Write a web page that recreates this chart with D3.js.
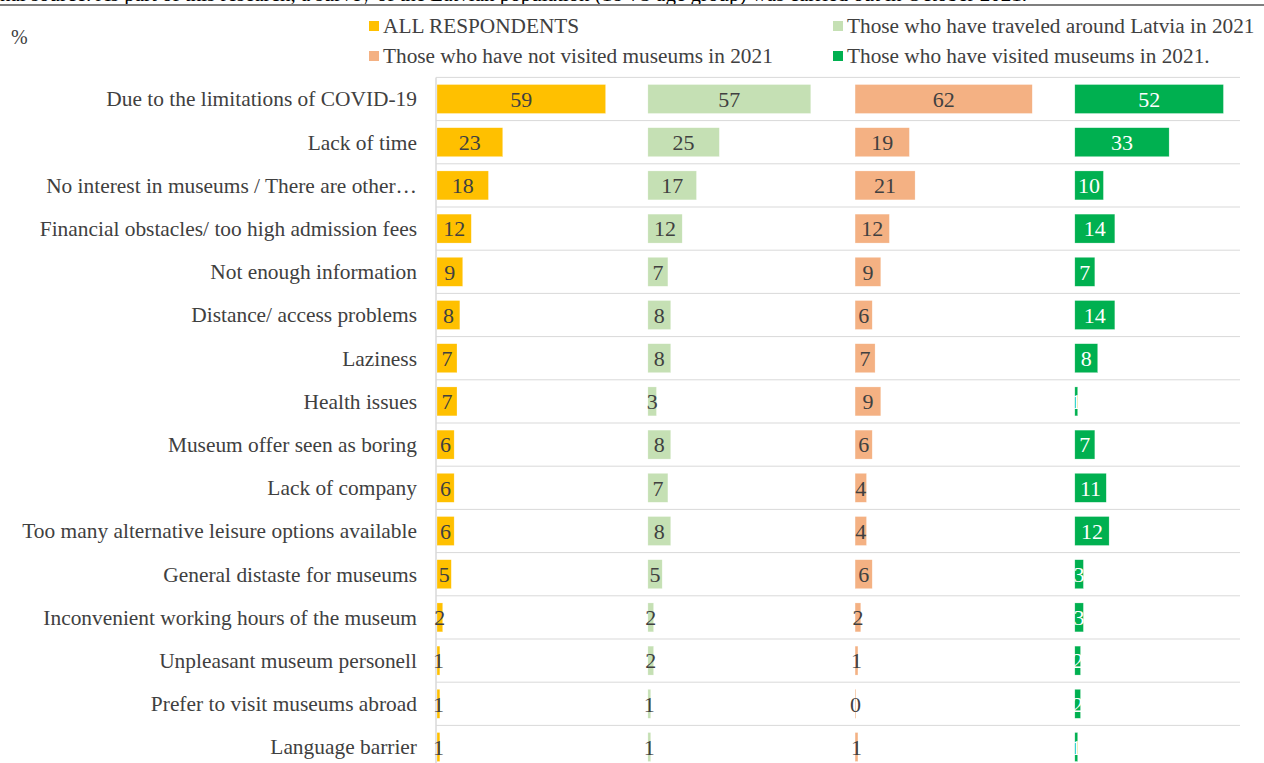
<!DOCTYPE html>
<html>
<head>
<meta charset="utf-8">
<script src="https://cdn.jsdelivr.net/npm/d3@7"></script>
<style>
  body { margin: 0; background: #fff; }
  text { font-family: "Liberation Serif", "Times New Roman", serif; }
</style>
</head>
<body>
<div id="chart"></div>
<script>
'use strict';

var reasons = [
  'Due to the limitations of COVID-19',
  'Lack of time',
  'No interest in museums / There are other\u2026',
  'Financial obstacles/ too high admission fees',
  'Not enough information',
  'Distance/ access problems',
  'Laziness',
  'Health issues',
  'Museum offer seen as boring',
  'Lack of company',
  'Too many alternative leisure options available',
  'General distaste for museums',
  'Inconvenient working hours of the museum',
  'Unpleasant museum personell',
  'Prefer to visit museums abroad',
  'Language barrier'
];

var seriesNames = [
  'ALL RESPONDENTS',
  'Those who have traveled around Latvia in 2021',
  'Those who have not visited museums in 2021',
  'Those who have visited museums in 2021.'
];

var allRespondents = [59, 23, 18, 12, 9, 8, 7, 7, 6, 6, 6, 5, 2, 1, 1, 1];
var traveledLatvia = [57, 25, 17, 12, 7, 8, 8, 3, 8, 7, 8, 5, 2, 2, 1, 1];
var notVisited     = [62, 19, 21, 12, 9, 6, 7, 9, 6, 4, 4, 6, 2, 1, 0.3, 1];
var visited        = [52, 33, 10, 14, 7, 14, 8, 1, 7, 11, 12, 3, 3, 2, 2, 1];

var chart = {};

chart.w = 1264;
chart.h = 763;
chart.plot = {left: 437, right: 1240, top: 77.4, step: 43.2};
chart.colors = ['#FFC000', '#C5E0B4', '#F4B183', '#00B050'];
chart.labelColors = ['#404040', '#404040', '#404040', '#ffffff'];
// where each panel starts, in value units along the shared x scale
chart.panelStart = [0, 73.8, 146.3, 223.2];
chart.textColor = '#404040';

chart.run = function()
{
    var svg = d3.select('#chart').append('svg')
        .attr('width', chart.w)
        .attr('height', chart.h);

    // cut-off source note and rule at the very top
    svg.append('text')
        .attr('x', 0)
        .attr('y', 1)
        .style('font-size', '21px')
        .style('fill', '#000')
        .text('nal source: As part of this research, a survey of the Latvian population (18-75 age group) was carried out in October 2021.');

    svg.append('line')
        .attr('x1', 0).attr('x2', chart.w)
        .attr('y1', 5).attr('y2', 5)
        .style('stroke', '#7f7f7f')
        .style('stroke-width', 2);

    svg.append('text')
        .attr('x', 11)
        .attr('y', 37)
        .attr('dy', '0.35em')
        .style('font-size', '20px')
        .style('fill', chart.textColor)
        .text('%');

    // legend
    var legendPos = [[369, 26], [833, 26], [369, 56], [833, 56]];
    var legend = svg.append('g').attr('class', 'legend');
    seriesNames.forEach(function(name, i){
        var g = legend.append('g')
            .attr('transform', 'translate(' + legendPos[i][0] + ',' + legendPos[i][1] + ')');
        g.append('rect')
            .attr('x', 0).attr('y', -5)
            .attr('width', 10).attr('height', 10)
            .style('fill', chart.colors[i]);
        g.append('text')
            .attr('x', 14)
            .attr('dy', '0.35em')
            .style('font-size', '21.3px')
            .style('fill', chart.textColor)
            .text(name);
    });

    var n = reasons.length;
    var y = d3.scaleBand()
        .domain(reasons)
        .range([chart.plot.top, chart.plot.top + n * chart.plot.step])
        .paddingInner(0.33)
        .paddingOuter(0.165);

    var x = d3.scaleLinear()
        .domain([0, 281])
        .range([chart.plot.left, chart.plot.right]);

    // horizontal gridlines
    var grid = d3.range(n + 1).map(function(i){ return chart.plot.top + i * chart.plot.step; });
    svg.append('g').selectAll('line')
        .data(grid)
        .enter()
        .append('line')
        .attr('x1', chart.plot.left - 1)
        .attr('x2', chart.plot.right)
        .attr('y1', function(d){ return d; })
        .attr('y2', function(d){ return d; })
        .style('stroke', '#d9d9d9')
        .style('stroke-width', 1);

    svg.append('line')
        .attr('x1', chart.plot.left - 1).attr('x2', chart.plot.left - 1)
        .attr('y1', chart.plot.top).attr('y2', chart.h)
        .style('stroke', '#d9d9d9')
        .style('stroke-width', 1.5);

    // category labels
    svg.append('g').selectAll('text')
        .data(reasons)
        .enter()
        .append('text')
        .attr('x', 417)
        .attr('y', function(d){ return y(d) + y.bandwidth() / 2; })
        .attr('dy', '0.35em')
        .attr('text-anchor', 'end')
        .style('font-size', '21.4px')
        .style('fill', chart.textColor)
        .text(function(d){ return d; });

    var allSeries = [allRespondents, traveledLatvia, notVisited, visited];
    var fmt = d3.format('.0f');

    allSeries.forEach(function(values, s){
        var off = chart.panelStart[s];
        var g = svg.append('g').attr('class', 'series-' + s);

        g.selectAll('rect')
            .data(values)
            .enter()
            .append('rect')
            .attr('x', x(off))
            .attr('y', function(d, i){ return y(reasons[i]); })
            .attr('width', function(d){ return x(off + d) - x(off); })
            .attr('height', y.bandwidth())
            .style('fill', chart.colors[s])
            .style('stroke', '#ffffff')
            .style('stroke-opacity', 0.5)
            .style('stroke-width', 0.5);

        g.selectAll('text')
            .data(values)
            .enter()
            .append('text')
            .attr('x', function(d){ return x(off + d / 2); })
            .attr('y', function(d, i){ return y(reasons[i]) + y.bandwidth() / 2; })
            .attr('dy', '0.35em')
            .attr('text-anchor', 'middle')
            .style('font-size', '22px')
            .style('fill', chart.labelColors[s])
            .text(function(d){ return fmt(d); });
    });
}

chart.run();
</script>
</body>
</html>
